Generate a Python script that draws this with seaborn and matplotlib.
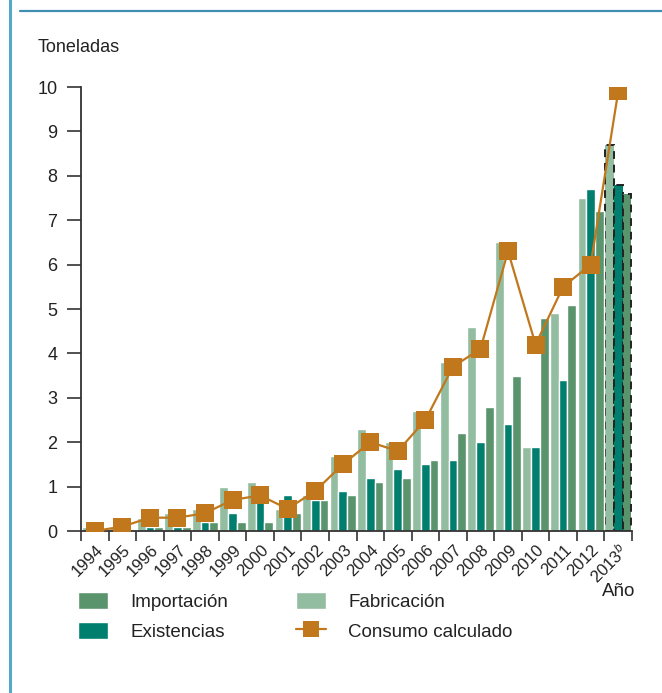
import matplotlib
matplotlib.use('Agg')
import matplotlib.pyplot as plt
from matplotlib.lines import Line2D
from matplotlib.patches import Patch
import numpy as np
import pandas as pd
import seaborn as sns

years = ['1994', '1995', '1996', '1997', '1998', '1999', '2000', '2001', '2002', '2003',
         '2004', '2005', '2006', '2007', '2008', '2009', '2010', '2011', '2012', '2013']
year_labels = years[:-1] + ['2013$^{\\mathit{b}}$']
fabricacion = [0.1, 0.1, 0.3, 0.4, 0.5, 1.0, 1.1, 0.5, 0.8, 1.7, 2.3, 2.0, 2.7, 3.8, 4.6, 6.5, 1.9, 4.9, 7.5, 8.7]
existencias = [0.0, 0.0, 0.1, 0.1, 0.2, 0.4, 0.7, 0.8, 0.7, 0.9, 1.2, 1.4, 1.5, 1.6, 2.0, 2.4, 1.9, 3.4, 7.7, 7.8]
importacion = [0.0, 0.0, 0.1, 0.1, 0.2, 0.2, 0.2, 0.4, 0.7, 0.8, 1.1, 1.2, 1.6, 2.2, 2.8, 3.5, 4.8, 5.1, 7.2, 7.6]
consumo = [0.0, 0.1, 0.3, 0.3, 0.4, 0.7, 0.8, 0.5, 0.9, 1.5, 2.0, 1.8, 2.5, 3.7, 4.1, 6.3, 4.2, 5.5, 6.0, 9.9]

c_fab = '#92bda0'
c_exi = '#007e6e'
c_imp = '#5a946d'
c_con = '#c1781d'

sns.set_theme(style='ticks')
plt.rcParams['font.family'] = ['Liberation Sans', 'DejaVu Sans']
plt.rcParams['mathtext.fontset'] = 'custom'
plt.rcParams['mathtext.it'] = 'Liberation Sans:italic'

df = pd.DataFrame({
    'Año': years * 3,
    'Toneladas': fabricacion + existencias + importacion,
    'Serie': ['Fabricación'] * 20 + ['Existencias'] * 20 + ['Importación'] * 20,
})

fig = plt.figure(figsize=(6.62, 6.93), dpi=100)
ax = fig.add_axes([81 / 662, 1 - 531 / 693, 551 / 662, 444 / 693])

sns.barplot(data=df, x='Año', y='Toneladas', hue='Serie', order=years,
            hue_order=['Fabricación', 'Existencias', 'Importación'],
            palette=[c_fab, c_exi, c_imp], width=0.95, saturation=1,
            legend=False, ax=ax, zorder=2)

# 2013 is a forecast: dashed outline
for cont in ax.containers:
    bar = cont[-1]
    bar.set_edgecolor('#222222')
    bar.set_linestyle((0, (4, 3)))
    bar.set_linewidth(1.4)

sns.pointplot(x=years, y=consumo, order=years, color=c_con, markers='s',
              markersize=13, linewidth=1.6, markeredgewidth=0, ax=ax, zorder=5)

ax.set_xlim(-0.5, 19.5)
ax.set_ylim(0, 10)
ax.set_yticks(range(0, 11))
ax.tick_params(axis='y', length=10, width=1.2, color='#333333', labelsize=13,
               labelcolor='#222222', pad=7)
ax.set_xticks(np.arange(-0.5, 20, 1))
ax.set_xticklabels([])
ax.tick_params(axis='x', which='major', length=7, width=1.2, color='#333333')
ax.set_xticks(np.arange(20) + 0.22, minor=True)
ax.set_xticklabels(year_labels, minor=True, rotation=45, ha='right',
                   rotation_mode='anchor', va='center', fontsize=12, color='#222222')
ax.tick_params(axis='x', which='minor', length=0, pad=12)
ax.set_xlabel('')
ax.set_ylabel('')
sns.despine(ax=ax)
for s in ['left', 'bottom']:
    ax.spines[s].set_color('#333333')
    ax.spines[s].set_linewidth(1.3)

fig.text(38 / 662, 1 - 48 / 693, 'Toneladas', fontsize=13, va='center', color='#222222')
fig.text(635 / 662, 1 - 592 / 693, 'Año', fontsize=13.5, ha='right', va='center', color='#222222')

handles = [Patch(facecolor=c_imp), Patch(facecolor=c_exi), Patch(facecolor=c_fab),
           Line2D([], [], color=c_con, lw=1.6, marker='s', markersize=12, markeredgewidth=0)]
labels = ['Importación', 'Existencias', 'Fabricación', 'Consumo calculado']
fig.legend(handles, labels, loc='upper left', bbox_to_anchor=(78 / 662, 1 - 592 / 693),
           ncol=2, frameon=False, fontsize=13.5, handlelength=1.6, handleheight=1.0,
           handletextpad=1.2, labelspacing=0.6, columnspacing=3.6, borderpad=0,
           borderaxespad=0, labelcolor='#222222')

fig.add_artist(Line2D([9.5 / 662, 9.5 / 662], [0, 1], color='#55a8c8', lw=2.2))
fig.add_artist(Line2D([20 / 662, 1], [1 - 11 / 693, 1 - 11 / 693], color='#3f8fb0', lw=1.6))

fig.savefig('out.png', dpi=100)
